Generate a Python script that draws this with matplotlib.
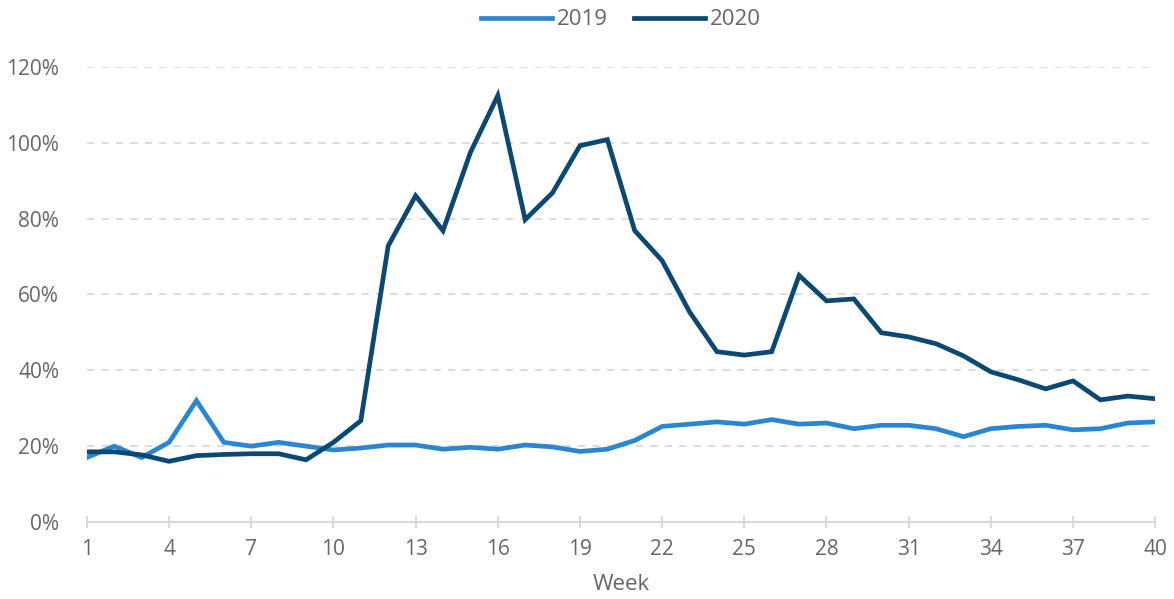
import numpy as np
from matplotlib import pyplot as plt

weeks = np.arange(1, 41)
share_2019 = [17.0, 20.0, 17.0, 21.0, 32.0, 21.0, 20.0, 21.0, 20.0, 19.0,
              19.5, 20.3, 20.3, 19.2, 19.7, 19.2, 20.3, 19.8, 18.6, 19.2,
              21.5, 25.2, 25.8, 26.4, 25.8, 27.0, 25.8, 26.1, 24.6, 25.5,
              25.5, 24.6, 22.5, 24.6, 25.2, 25.5, 24.3, 24.6, 26.1, 26.4]
share_2020 = [18.5, 18.5, 17.7, 16.0, 17.5, 17.8, 18.0, 18.0, 16.4, 21.0,
              26.7, 72.8, 86.0, 76.8, 97.4, 112.4, 79.7, 86.8, 99.2, 100.8,
              76.8, 68.9, 55.4, 44.9, 44.0, 44.9, 65.0, 58.3, 58.8, 49.9,
              48.8, 47.0, 43.8, 39.6, 37.5, 35.1, 37.2, 32.2, 33.2, 32.5]
x_ticks = list(range(1, 41, 3))
y_ticks = [0, 20, 40, 60, 80, 100, 120]

plt.rcParams['font.family'] = ['Open Sans', 'DejaVu Sans']
text_col = "#666666"

fig = plt.figure(figsize=(11.74, 5.99), dpi=100)
ax = fig.add_axes([0.074, 0.1285, 0.910, 0.76])

ax.plot(weeks, share_2019, color="#2B86D1", lw=3.4, label="2019", solid_joinstyle="miter")
ax.plot(weeks, share_2020, color="#0B4872", lw=3.4, label="2020", solid_joinstyle="miter")

ax.set_xlim(1, 40)
ax.set_ylim(0, 120)
ax.set_xticks(x_ticks)
ax.set_yticks(y_ticks)
ax.set_yticklabels([f"{v}%" for v in y_ticks])
ax.grid(axis="y", color="#D9D9D9", ls=(0, (4, 4)), lw=1.3)
ax.set_axisbelow(True)

for s in ["top", "right", "left"]:
    ax.spines[s].set_visible(False)
ax.spines["bottom"].set_color("#D9D9D9")
ax.spines["bottom"].set_linewidth(1.5)
ax.tick_params(axis="x", direction="inout", length=9, width=1.5, color="#D9D9D9",
               labelsize=15, labelcolor=text_col, pad=8)
ax.tick_params(axis="y", length=0, labelsize=15, labelcolor=text_col, pad=20)
ax.set_xlabel("Week", fontsize=16, color=text_col, labelpad=10)

ax.legend(loc="upper center", bbox_to_anchor=(0.5, 1.17), ncol=2, frameon=False,
          fontsize=16, labelcolor=text_col, handlelength=3.2, handletextpad=0.2,
          columnspacing=1.2)

plt.savefig("out.png")
